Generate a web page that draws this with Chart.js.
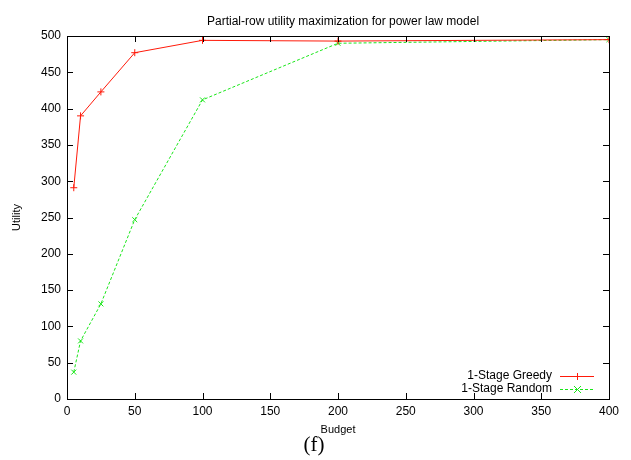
<!DOCTYPE html>
<html>
<head>
<meta charset="utf-8">
<script src="https://cdn.jsdelivr.net/npm/chart.js@4"></script>
<style>
  html, body { margin: 0; padding: 0; background: #fff; }
  canvas { display: block; }
</style>
</head>
<body>
<canvas id="chart" width="631" height="460"></canvas>
<script>
const budgets = [5, 10, 25, 50, 100, 200, 400];
const greedyUtil = [291, 390, 423, 477, 494, 493, 495];
const randomUtil = [37, 80, 131, 247, 412, 490, 495];
const xTicks = [0, 50, 100, 150, 200, 250, 300, 350, 400];
const yTicks = [0, 50, 100, 150, 200, 250, 300, 350, 400, 450, 500];

const RED = "#ff1a0a";
const GREEN = "#19e619";
const FONT = "'Liberation Sans', Arial, Helvetica, sans-serif";

const toPoints = (ys) => budgets.map((b, i) => ({ x: b, y: ys[i] }));

// gnuplot-like frame, inside ticks, legend, title and caption
const gnuplotFrame = {
  id: "gnuplotFrame",
  afterDraw(chart) {
    const { ctx: c, chartArea: a, scales } = chart;
    const { x, y } = scales;
    c.save();
    c.strokeStyle = "#000";
    c.lineWidth = 1;
    c.strokeRect(Math.round(a.left) + 0.5, Math.round(a.top) + 0.5,
      Math.round(a.right - a.left), Math.round(a.bottom - a.top));

    const tl = 6;
    c.beginPath();
    xTicks.forEach((t) => {
      const px = Math.round(x.getPixelForValue(t)) + 0.5;
      c.moveTo(px, a.bottom); c.lineTo(px, a.bottom - tl);
      c.moveTo(px, a.top); c.lineTo(px, a.top + tl);
    });
    yTicks.forEach((t) => {
      const py = Math.round(y.getPixelForValue(t)) + 0.5;
      c.moveTo(a.left, py); c.lineTo(a.left + tl, py);
      c.moveTo(a.right, py); c.lineTo(a.right - tl, py);
    });
    c.stroke();

    // title
    c.fillStyle = "#000";
    c.font = "12px " + FONT;
    c.textAlign = "center";
    c.textBaseline = "middle";
    c.fillText("Partial-row utility maximization for power law model", 343, 22);

    // legend
    const rows = [
      { label: "1-Stage Greedy", color: RED, dash: [], style: "cross", yy: 376 },
      { label: "1-Stage Random", color: GREEN, dash: [3, 2], style: "crossRot", yy: 389 },
    ];
    c.font = "12px " + FONT;
    c.textAlign = "right";
    rows.forEach((r) => {
      c.fillStyle = "#000";
      c.fillText(r.label, 552, r.yy);
      c.strokeStyle = r.color;
      c.setLineDash(r.dash);
      c.beginPath();
      c.moveTo(560, r.yy + 0.5);
      c.lineTo(594, r.yy + 0.5);
      c.stroke();
      c.setLineDash([]);
      c.beginPath();
      if (r.style === "cross") {
        c.moveTo(577 - 3.5, r.yy + 0.5); c.lineTo(577 + 3.5, r.yy + 0.5);
        c.moveTo(577.5, r.yy - 3); c.lineTo(577.5, r.yy + 4);
      } else {
        c.moveTo(574, r.yy - 3); c.lineTo(581, r.yy + 4);
        c.moveTo(581, r.yy - 3); c.lineTo(574, r.yy + 4);
      }
      c.stroke();
    });

    // caption
    c.fillStyle = "#000";
    c.font = "21px 'Liberation Serif', 'Times New Roman', serif";
    c.textAlign = "center";
    c.fillText("(f)", 314, 445);
    c.restore();
  },
};

new Chart(document.getElementById("chart"), {
  type: "line",
  data: {
    datasets: [
      {
        label: "1-Stage Greedy",
        data: toPoints(greedyUtil),
        borderColor: RED,
        borderWidth: 1,
        pointStyle: "cross",
        pointRadius: 3.5,
        pointBorderColor: RED,
        pointBorderWidth: 1,
        tension: 0,
        fill: false,
      },
      {
        label: "1-Stage Random",
        data: toPoints(randomUtil),
        borderColor: GREEN,
        borderWidth: 1,
        borderDash: [3, 2],
        pointStyle: "crossRot",
        pointRadius: 3.5,
        pointBorderColor: GREEN,
        pointBorderWidth: 1,
        tension: 0,
        fill: false,
      },
    ],
  },
  options: {
    responsive: false,
    devicePixelRatio: 1,
    animation: false,
    layout: { padding: { top: 36, right: 22, left: 0, bottom: 0 } },
    plugins: {
      legend: { display: false },
      title: { display: false },
      tooltip: { enabled: false },
    },
    scales: {
      x: {
        type: "linear",
        min: 0,
        max: 400,
        afterFit: (s) => { s.height = 61; },
        afterBuildTicks: (s) => { s.ticks = xTicks.map((v) => ({ value: v })); },
        grid: { display: false, drawTicks: false, tickLength: 0 },
        border: { display: false },
        ticks: { color: "#000", font: { family: FONT, size: 12 }, padding: 5, maxRotation: 0 },
        title: {
          display: true,
          text: "Budget",
          color: "#000",
          font: { family: FONT, size: 11 },
          padding: { top: 0, bottom: 23 },
        },
      },
      y: {
        min: 0,
        max: 500,
        afterFit: (s) => { s.width = 67; },
        afterBuildTicks: (s) => { s.ticks = yTicks.map((v) => ({ value: v })); },
        grid: { display: false, drawTicks: false, tickLength: 0 },
        border: { display: false },
        ticks: { color: "#000", font: { family: FONT, size: 12 }, padding: 6 },
        title: {
          display: true,
          text: "Utility",
          color: "#000",
          font: { family: FONT, size: 11 },
          padding: { top: 10, bottom: 0 },
        },
      },
    },
  },
  plugins: [gnuplotFrame],
});
</script>
</body>
</html>
